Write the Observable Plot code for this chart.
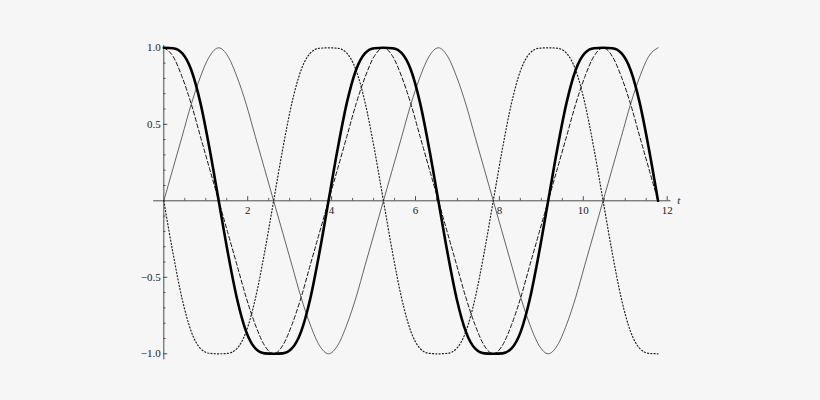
<!DOCTYPE html>
<html>
<head>
<meta charset="utf-8">
<script src="https://cdn.jsdelivr.net/npm/d3@7"></script>
<script src="https://cdn.jsdelivr.net/npm/@observablehq/plot@0.6"></script>
<style>
  html, body { margin: 0; padding: 0; background: #f6f6f6; }
  #chart { width: 820px; height: 400px; }
</style>
</head>
<body>
<div id="chart"></div>
<script>
// time samples (t)
const t = [0, 0.218, 0.436, 0.655, 0.873, 1.091, 1.309, 1.527, 1.745, 1.964, 2.182, 2.400,
  2.618, 2.836, 3.054, 3.273, 3.491, 3.709, 3.927, 4.145, 4.363, 4.582, 4.800, 5.018,
  5.236, 5.454, 5.672, 5.891, 6.109, 6.327, 6.545, 6.763, 6.981, 7.200, 7.418, 7.636,
  7.854, 8.072, 8.290, 8.509, 8.727, 8.945, 9.163, 9.381, 9.600, 9.818, 10.036, 10.254,
  10.472, 10.690, 10.908, 11.127, 11.345, 11.563, 11.781];

// thin solid curve
const thinSeries = [0, .21, .42, .632, .81, .945, 1, .945, .81, .632, .42, .21,
  0, -.21, -.42, -.632, -.81, -.945, -1, -.945, -.81, -.632, -.42, -.21,
  0, .21, .42, .632, .81, .945, 1, .945, .81, .632, .42, .21,
  0, -.21, -.42, -.632, -.81, -.945, -1, -.945, -.81, -.632, -.42, -.21,
  0, .21, .42, .632, .81, .945, 1];

// dashed curve
const dashedSeries = [1, .945, .81, .632, .42, .21, 0, -.21, -.42, -.632, -.81, -.945,
  -1, -.945, -.81, -.632, -.42, -.21, 0, .21, .42, .632, .81, .945,
  1, .945, .81, .632, .42, .21, 0, -.21, -.42, -.632, -.81, -.945,
  -1, -.945, -.81, -.632, -.42, -.21, 0, .21, .42, .632, .81, .945,
  1, .945, .81, .632, .42, .21, 0];

// thick solid curve
const thickSeries = [1, .997, .965, .855, .64, .34, 0, -.34, -.64, -.855, -.965, -.997,
  -1, -.997, -.965, -.855, -.64, -.34, 0, .34, .64, .855, .965, .997,
  1, .997, .965, .855, .64, .34, 0, -.34, -.64, -.855, -.965, -.997,
  -1, -.997, -.965, -.855, -.64, -.34, 0, .34, .64, .855, .965, .997,
  1, .997, .965, .855, .64, .34, 0];

// dotted curve
const dottedSeries = [0, -.34, -.64, -.855, -.965, -.997, -1, -.997, -.965, -.855, -.64, -.34,
  0, .34, .64, .855, .965, .997, 1, .997, .965, .855, .64, .34,
  0, -.34, -.64, -.855, -.965, -.997, -1, -.997, -.965, -.855, -.64, -.34,
  0, .34, .64, .855, .965, .997, 1, .997, .965, .855, .64, .34,
  0, -.34, -.64, -.855, -.965, -.997, -1];

// ticks
const xMajor = [2, 4, 6, 8, 10, 12];
const xLabels = ["2", "4", "6", "8", "10", "12"];
const xMinor = [0.5, 1, 1.5, 2.5, 3, 3.5, 4.5, 5, 5.5, 6.5, 7, 7.5, 8.5, 9, 9.5, 10.5, 11, 11.5];
const yMajor = [-1, -0.5, 0.5, 1];
const yLabels = ["\u22121.0", "\u22120.5", "0.5", "1.0"];
const yMinor = [-0.9, -0.8, -0.7, -0.6, -0.4, -0.3, -0.2, -0.1, 0.1, 0.2, 0.3, 0.4, 0.6, 0.7, 0.8, 0.9];

const mk = (ys) => t.map((tt, i) => ({t: tt, v: ys[i]}));

const font = "'Liberation Serif', 'DejaVu Serif', serif";

const chart = Plot.plot({
  width: 820,
  height: 400,
  marginLeft: 163.3,
  marginRight: 153.3,
  marginTop: 47.3,
  marginBottom: 46.7,
  x: {domain: [0, 12], axis: null},
  y: {domain: [-1, 1], axis: null},
  style: {background: "#f6f6f6", fontFamily: font, fontSize: "11px", color: "#000", overflow: "visible"},
  marks: [
    // axes
    Plot.ruleY([0], {x1: -0.24, x2: 12.09, stroke: "#222", strokeWidth: 0.8}),
    Plot.ruleX([0], {y1: -1.04, y2: 1.015, stroke: "#222", strokeWidth: 0.8}),
    Plot.ruleX(xMinor, {x: d => d, y1: 0, y2: 0.016, stroke: "#222", strokeWidth: 0.7}),
    Plot.ruleX(xMajor, {x: d => d, y1: 0, y2: 0.027, stroke: "#222", strokeWidth: 0.8}),
    Plot.ruleY(yMinor, {y: d => d, x1: 0, x2: 0.055, stroke: "#222", strokeWidth: 0.7}),
    Plot.ruleY(yMajor, {y: d => d, x1: 0, x2: 0.095, stroke: "#222", strokeWidth: 0.8}),
    Plot.text(xMajor, {x: d => d, y: 0, dy: 10, text: (d, i) => xLabels[i], fontFamily: font, fontSize: 11, fill: "#222"}),
    Plot.text(yMajor, {x: 0, y: d => d, dx: -3, textAnchor: "end", text: (d, i) => yLabels[i], fontFamily: font, fontSize: 11, fill: "#222"}),
    Plot.text(["t"], {x: 12, y: 0, dx: 11.5, text: d => d, fontFamily: font, fontSize: 11, fontStyle: "italic", fill: "#222"}),
    // curves
    Plot.line(mk(thinSeries), {x: "t", y: "v", curve: "monotone-x", stroke: "#333", strokeWidth: 0.75}),
    Plot.line(mk(dottedSeries), {x: "t", y: "v", curve: "monotone-x", stroke: "#222", strokeWidth: 1.2, strokeDasharray: "1.1,2.2"}),
    Plot.line(mk(dashedSeries), {x: "t", y: "v", curve: "monotone-x", stroke: "#111", strokeWidth: 1.0, strokeDasharray: "4,2.5"}),
    Plot.line(mk(thickSeries), {x: "t", y: "v", curve: "monotone-x", stroke: "#000", strokeWidth: 2.6})
  ]
});
document.getElementById("chart").appendChild(chart);
</script>
</body>
</html>
